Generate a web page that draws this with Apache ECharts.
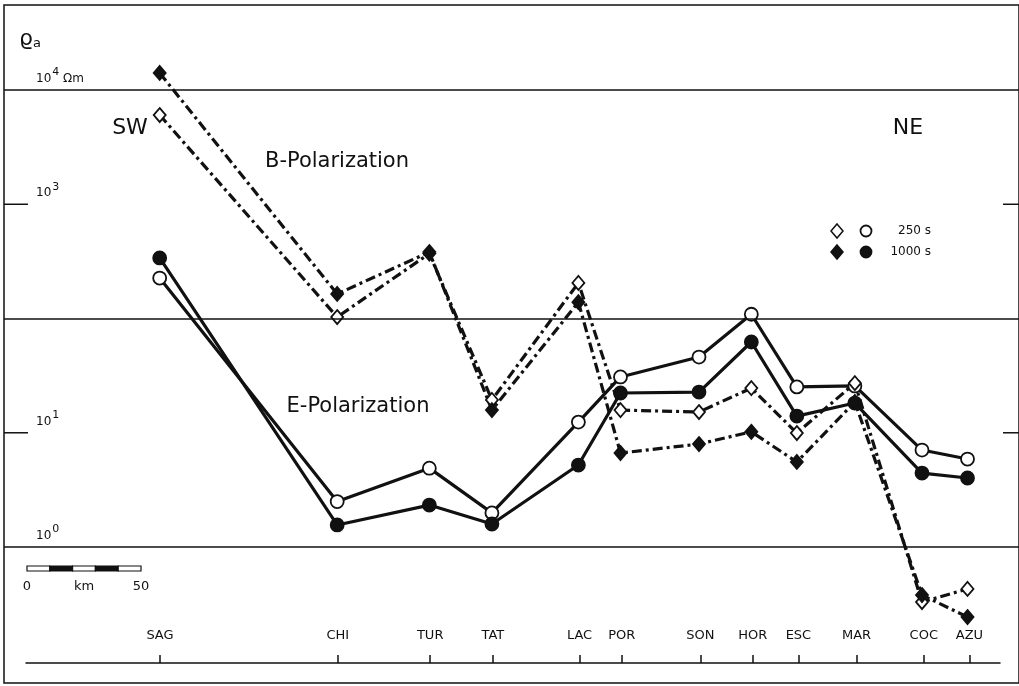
<!DOCTYPE html>
<html><head><meta charset="utf-8">
<script src="https://cdn.jsdelivr.net/npm/echarts@6/dist/echarts.min.js"></script>
<style>html,body{margin:0;padding:0;background:#fff}#c{width:1019px;height:686px}</style>
</head><body><div id="c"></div>
<script>
// ---- data ----
const stations = ['SAG','CHI','TUR','TAT','LAC','POR','SON','HOR','ESC','MAR','COC','AZU'];
const distKm   = [0, 78, 118.5, 146, 184, 202.5, 237, 260, 280, 305.5, 335, 355];
const ePol250  = [226, 2.5, 4.9, 1.99, 12.4, 30.8, 46, 109, 25.2, 25.7, 7.06, 5.89];
const ePol1000 = [339, 1.56, 2.33, 1.59, 5.22, 22.3, 22.7, 62.3, 14.0, 18.2, 4.44, 4.02];
const bPol250  = [6040, 103, 370, 19.4, 205, 15.8, 15.2, 24.6, 9.95, 27.2, 0.33, 0.43];
const bPol1000 = [14090, 164, 382, 15.8, 139, 6.65, 7.97, 10.2, 5.55, 18.6, 0.38, 0.244];
const gridDecades = [1, 100, 10000];
const tickDecades = [10, 1000];
const yTickLabels = [[10000, '4', ' Ωm'], [1000, '3', ''], [10, '1', ''], [1, '0', '']];
const periodLabels = ['250 s', '1000 s'];
const scaleBarKm = [0, 50];

// ---- chart ----
const FONT = 'DejaVu Sans';
const INK = '#111';
const chart = echarts.init(document.getElementById('c'), null, {renderer: 'canvas'});
const X0 = -68.42, X1 = 377.63;          // main frame extent in km
const Y0 = Math.pow(10, -1.19), Y1 = Math.pow(10, 4.744);

function pts(vals) { return distKm.map((d, i) => [d, vals[i]]); }
const dashDot = [10, 4, 3, 4];
function lineSeries(name, vals, symbol, size, filled, dashed) {
  return {
    name, type: 'line', xAxisIndex: 0, yAxisIndex: 0, data: pts(vals),
    symbol, symbolSize: size, showAllSymbol: true,
    lineStyle: {color: INK, width: 3.2, type: dashed ? dashDot : 'solid'},
    itemStyle: {color: filled ? INK : '#fff', borderColor: INK, borderWidth: 1.8, opacity: 1},
    z: 3, silent: true
  };
}

const option = {
  animation: false,
  backgroundColor: '#fff',
  grid: [
    {left: 4, right: -2, top: 5, bottom: 3, show: true, borderColor: INK, borderWidth: 1.5, backgroundColor: 'transparent'},
    {left: 26, right: 19, top: 663, height: 0}
  ],
  xAxis: [
    {gridIndex: 0, type: 'value', min: X0, max: X1, show: false},
    {gridIndex: 1, type: 'value', min: -58.77, max: 368.42, position: 'bottom',
     axisLine: {show: true, lineStyle: {color: INK, width: 1.5}},
     axisTick: {show: true, inside: true, length: 8, customValues: distKm, lineStyle: {color: INK, width: 1.5}},
     axisLabel: {show: true, inside: true, margin: 21, customValues: distKm, color: INK,
       fontFamily: FONT, fontSize: 13,
       formatter: v => { const i = distKm.findIndex(d => Math.abs(d - v) < 1e-6); return i >= 0 ? stations[i] : ''; }},
     splitLine: {show: false}}
  ],
  yAxis: [
    {gridIndex: 0, type: 'log', logBase: 10, min: Y0, max: Y1, show: false},
    {gridIndex: 1, type: 'value', show: false}
  ],
  series: [
    lineSeries('E 250', ePol250, 'circle', 13, false, false),
    lineSeries('E 1000', ePol1000, 'circle', 13, true, false),
    lineSeries('B 250', bPol250, 'diamond', [12, 14], false, true),
    lineSeries('B 1000', bPol1000, 'diamond', [12, 14], true, true),
    {type: 'line', xAxisIndex: 0, yAxisIndex: 0, data: [], silent: true,
     markLine: {silent: true, symbol: 'none', label: {show: false},
       lineStyle: {color: INK, width: 1.5, type: 'solid'},
       data: gridDecades.map(v => ({yAxis: v}))}}
  ]
};
chart.setOption(option);

// ---- annotations positioned through the chart's own scales ----
function px(x, y) { return chart.convertToPixel({gridIndex: 0}, [x, y]); }
const g = [];
const txt = (x, y, text, size, align, va) => ({type: 'text', x, y, z: 10, silent: true,
  style: {text, fill: INK, font: `${size}px "${FONT}"`, textAlign: align || 'left', textVerticalAlign: va || 'middle'}});

yTickLabels.forEach(([v, sup, unit]) => {
  const p = px(0, v);
  g.push({type: 'text', x: 36, y: p[1] - 5, z: 10, silent: true,
    style: {text: '{b|10}{s|' + sup + '}' + (unit ? '{b|' + unit + '}' : ''),
      fill: INK, textAlign: 'left', textVerticalAlign: 'bottom', fontFamily: FONT,
      rich: {
        b: {fontSize: 12, lineHeight: 18, verticalAlign: 'bottom', fontFamily: FONT, fill: INK},
        s: {fontSize: 11, lineHeight: 11, verticalAlign: 'top', fontFamily: FONT, fill: INK, padding: [0, 0, 0, 1]}
      }}});
});
tickDecades.forEach(v => {
  const p = px(0, v);
  g.push({type: 'line', silent: true, shape: {x1: 4, y1: p[1], x2: 28, y2: p[1]}, style: {stroke: INK, lineWidth: 1.5}});
  g.push({type: 'line', silent: true, shape: {x1: 1003, y1: p[1], x2: 1019, y2: p[1]}, style: {stroke: INK, lineWidth: 1.5}});
});
g.push({type: 'text', x: 19, y: 50, z: 10, silent: true,
  style: {text: '{r|ϱ}{a|a}', fill: INK, textAlign: 'left', textVerticalAlign: 'bottom', fontFamily: FONT,
    rich: {r: {fontSize: 22, lineHeight: 22, verticalAlign: 'top', fontFamily: FONT, fill: INK},
           a: {fontSize: 13, lineHeight: 22, verticalAlign: 'bottom', fontFamily: FONT, fill: INK}}}});
g.push(txt(130, 128, 'SW', 22, 'center'));
g.push(txt(908, 128, 'NE', 22, 'center'));
g.push(txt(337, 162, 'B-Polarization', 21, 'center'));
g.push(txt(358, 407, 'E-Polarization', 21, 'center'));

// legend
const diamond = (cx, cy, filled) => ({type: 'polygon', silent: true, z: 10,
  shape: {points: [[cx, cy - 7], [cx + 6, cy], [cx, cy + 7], [cx - 6, cy]]},
  style: {fill: filled ? INK : '#fff', stroke: INK, lineWidth: 1.5}});
const circ = (cx, cy, filled) => ({type: 'circle', silent: true, z: 10,
  shape: {cx, cy, r: 5.5}, style: {fill: filled ? INK : '#fff', stroke: INK, lineWidth: 1.8}});
[[231, false], [252, true]].forEach(([y, f], i) => {
  g.push(diamond(837, y, f)); g.push(circ(866, y, f));
  g.push(txt(931, y, periodLabels[i], 12, 'right'));
});

// scale bar: 5 segments of 10 km
const kmPx = 2.28, sbX = 27, sbY = 566;
for (let i = 0; i < 5; i++) {
  g.push({type: 'rect', silent: true, z: 10,
    shape: {x: sbX + i * 10 * kmPx, y: sbY, width: 10 * kmPx, height: 5},
    style: {fill: i % 2 ? INK : '#fff', stroke: INK, lineWidth: 1.2}});
}
g.push(txt(sbX, 587, String(scaleBarKm[0]), 13, 'center'));
g.push(txt(sbX + 25 * kmPx, 587, 'km', 13, 'center'));
g.push(txt(sbX + 50 * kmPx, 587, String(scaleBarKm[1]), 13, 'center'));

chart.setOption({graphic: {elements: g}});
</script>
</body></html>
